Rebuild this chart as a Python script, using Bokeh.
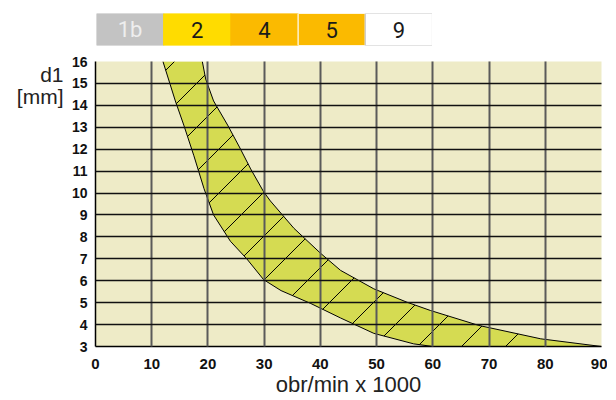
import numpy as np
from bokeh.plotting import figure
from bokeh.layouts import column, row
from bokeh.models import FixedTicker, Grid
from bokeh.core.properties import value
from bokeh.embed import file_html
from bokeh.resources import INLINE

# ---- colour-code legend (top strip) ----
groups = ["1b", "2", "4", "5", "9"]
group_fill = ["#C3C3C3", "#FFDC00", "#FBBA00", "#FBBA00", "#FFFFFF"]
group_line = ["#C3C3C3", "#FFDC00", "#FBBA00", "#FFFFFF", "#C8C8C8"]
group_text = ["#EEEEEE", "#1A1A1A", "#1A1A1A", "#1A1A1A", "#1A1A1A"]

# ---- band boundaries: d1 [mm] vs speed (obr/min x 1000) ----
upper_x = [19.0, 19.6, 21.0, 23.5, 25.6, 27.6, 29.9, 31.1, 35.3, 40.0, 43.6, 49.5, 55.4, 59.6, 68.2, 79.2, 90.0]
upper_y = [16.0, 15.2, 14.2, 13.1, 12.1, 11.1, 10.06, 9.64, 8.39, 7.26, 6.47, 5.63, 5.02, 4.64, 3.96, 3.35, 3.0]
lower_x = [12.0, 14.2, 15.7, 17.5, 19.3, 21.0, 24.0, 26.9, 29.9, 33.0, 38.3, 43.6, 49.5, 56.6, 60.0]
lower_y = [16.0, 14.2, 13.1, 11.7, 10.2, 9.0, 7.8, 7.0, 6.05, 5.55, 4.96, 4.3, 3.6, 3.12, 3.0]

x_ticks = [0, 10, 20, 30, 40, 50, 60, 70, 80, 90]
y_ticks = [3, 4, 5, 6, 7, 8, 9, 10, 11, 12, 13, 14, 15, 16]

x_label = "obr/min x 1000"
y_label_lines = ["d1", "[mm]"]

FONT = "Liberation Sans"
FRAME_W, FRAME_H = 506, 285
TOP_PAD, BOTTOM_PAD = 8, 58
LAB_W = 64

# ---------------- top strip ----------------
n = len(groups)
top = figure(frame_width=336, frame_height=32, min_border_left=96, min_border_right=0,
             min_border_top=13, min_border_bottom=8,
             x_range=(0, n), y_range=(0, 1), x_axis_location=None, y_axis_location=None,
             toolbar_location=None, output_backend="svg")
top.outline_line_color = None
top.grid.visible = False
idx = np.arange(n)
top.quad(left=idx, right=idx + 1, bottom=0, top=1, fill_color=group_fill,
         line_color=group_line, line_width=1.2)
top.text(x=idx + 0.5, y=[0.5] * n, text=groups, text_color=group_text,
         text_align="center", text_baseline="middle",
         text_font=value("Roboto"), text_font_size="22px")

# ---------------- y-axis title panel (left) ----------------
lab = figure(frame_width=LAB_W, frame_height=TOP_PAD + FRAME_H + BOTTOM_PAD,
             min_border_left=0, min_border_right=0, min_border_top=0, min_border_bottom=0,
             x_range=(-LAB_W, 0), y_range=(-(FRAME_H + BOTTOM_PAD), TOP_PAD),
             x_axis_location=None, y_axis_location=None, align="start",
             toolbar_location=None, output_backend="svg")
lab.outline_line_color = None
lab.grid.visible = False
lab.text(x=[-1, -1], y=[-5, -27], text=y_label_lines, text_align="right",
         text_baseline="middle", text_font=value(FONT), text_font_size="21px",
         text_color="#222222")

# ---------------- main chart ----------------
x_lo, x_hi = x_ticks[0], x_ticks[-1]
y_lo, y_hi = y_ticks[0], y_ticks[-1]

p = figure(frame_width=FRAME_W, frame_height=FRAME_H, min_border_left=95 - LAB_W,
           min_border_right=6, min_border_top=TOP_PAD, min_border_bottom=BOTTOM_PAD,
           x_range=(x_lo, x_hi), y_range=(y_lo, y_hi), align="start",
           toolbar_location=None, output_backend="svg")
p.background_fill_color = "#EEEBC7"
p.outline_line_color = None

# band
band_x = upper_x + lower_x[::-1]
band_y = upper_y + lower_y[::-1]
p.patch(band_x, band_y, fill_color="#D5DB52", line_color=None)

# 45-degree hatch segments across the band
kx = FRAME_W / (x_hi - x_lo)
ky = FRAME_H / (y_hi - y_lo)
ux, uy = np.array(upper_x), np.array(upper_y)
lx, ly = np.array(lower_x), np.array(lower_y)
wu = (ux - x_lo) * kx - (uy - y_lo) * ky
wl = (lx - x_lo) * kx - (ly - y_lo) * ky
hx0, hy0, hx1, hy1 = [], [], [], []
for w in np.arange(-206, 430, 44):
    if w <= wl[-1]:
        ax, ay = np.interp(w, wl, lx), np.interp(w, wl, ly)
    else:
        ax, ay = x_lo + w / kx, y_lo
    if w >= wu[0]:
        bx, by = np.interp(w, wu, ux), np.interp(w, wu, uy)
    else:
        bx, by = x_lo + (w + (y_hi - y_lo) * ky) / kx, y_hi
    hx0.append(ax); hy0.append(ay); hx1.append(bx); hy1.append(by)
p.segment(hx0, hy0, hx1, hy1, line_color="black", line_width=1)

p.line(upper_x, upper_y, line_color="black", line_width=1)
p.line(lower_x, lower_y, line_color="black", line_width=1)

# grid
p.xgrid.ticker = FixedTicker(ticks=x_ticks[1:])
p.xgrid.grid_line_color = "#5A5A5A"
p.xgrid.grid_line_width = 2
p.xgrid.level = "guide"
p.ygrid.ticker = FixedTicker(ticks=y_ticks[1:-1])
p.ygrid.grid_line_color = "#111111"
p.ygrid.grid_line_width = 1.5
p.ygrid.level = "guide"
top_edge = Grid(dimension=1, ticker=FixedTicker(ticks=y_ticks[-1:]),
                grid_line_color="#7A7A7A", grid_line_width=2, level="guide")
p.add_layout(top_edge)

# axes
p.xaxis.ticker = FixedTicker(ticks=x_ticks)
p.yaxis.ticker = FixedTicker(ticks=y_ticks)
for ax in (p.xaxis[0], p.yaxis[0]):
    ax.axis_line_color = "black"
    ax.axis_line_width = 1.5
    ax.major_tick_in = 0
    ax.major_tick_out = 0
    ax.minor_tick_in = 0
    ax.minor_tick_out = 0
    ax.major_label_text_font = FONT
    ax.major_label_text_font_style = "bold"
    ax.major_label_text_color = "#111111"
p.xaxis.major_label_text_font_size = "15px"
p.yaxis.major_label_text_font_size = "14px"
p.xaxis.major_label_standoff = 12
p.yaxis.major_label_standoff = 8
p.xaxis.axis_label = x_label
p.xaxis.axis_label_text_font = FONT
p.xaxis.axis_label_text_font_style = "normal"
p.xaxis.axis_label_text_font_size = "22px"
p.xaxis.axis_label_text_color = "#222222"
p.xaxis.axis_label_standoff = 0

layout = column(top, row(lab, p, spacing=0), spacing=0)
open("out.html", "w").write(file_html(layout, INLINE))
